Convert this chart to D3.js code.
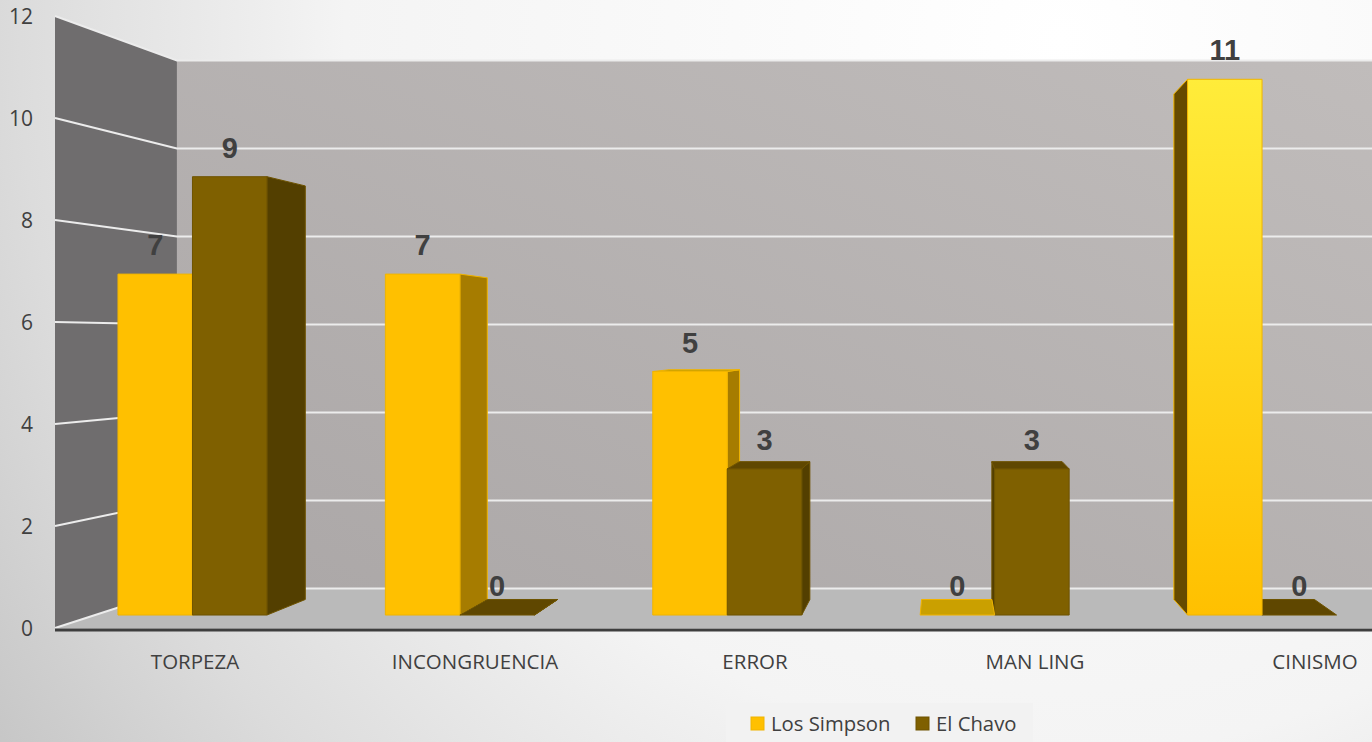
<!DOCTYPE html>
<html><head><meta charset="utf-8">
<script src="https://cdn.jsdelivr.net/npm/d3@7"></script>
<style>body{margin:0;overflow:hidden;background:#fff}svg{display:block}</style>
</head><body>
<svg id="c" width="1372" height="742"></svg>
<script>
const categories = ["TORPEZA","INCONGRUENCIA","ERROR","MAN LING","CINISMO"];
const seriesNames = ["Los Simpson","El Chavo"];
const losSimpson = [7,7,5,0,11];
const elChavo = [9,0,3,3,0];
const yTicks = [0,2,4,6,8,10,12];

const W=1372,H=742;
const VP=[945,340];
const S_FRONT_BAR=0.955, S_BACK_BAR=0.901, S_WALL=0.863;
const x = d3.scaleBand().domain(categories).range([55,1455]);
const y = d3.scaleLinear().domain([0,12]).range([628,16]);
const groupShift=-38, barW=78;
const sub = d3.scaleBand().domain(seriesNames).range([0,2*barW]);
const P=(x0,y0,s)=>[VP[0]+(x0-VP[0])*s, VP[1]+(y0-VP[1])*s];

const svg=d3.select("#c");
const defs=svg.append("defs");
const bg=defs.append("radialGradient").attr("id","bg").attr("gradientUnits","userSpaceOnUse")
  .attr("cx",1060).attr("cy",40).attr("r",1300);
[["0%","#ffffff"],["55%","#f4f4f4"],["80%","#dcdcdc"],["100%","#c4c4c4"]].forEach(([o,c])=>
  bg.append("stop").attr("offset",o).attr("stop-color",c));
const bw=defs.append("linearGradient").attr("id","bw").attr("x1","0").attr("y1","1").attr("x2","1").attr("y2","0");
bw.append("stop").attr("offset","0%").attr("stop-color","#aba7a7");
bw.append("stop").attr("offset","100%").attr("stop-color","#c0bcbb");
const hg=defs.append("linearGradient").attr("id","hg").attr("x1","0").attr("y1","0").attr("x2","0").attr("y2","1");
hg.append("stop").attr("offset","0%").attr("stop-color","#ffec3a");
hg.append("stop").attr("offset","100%").attr("stop-color","#ffc000");

svg.append("rect").attr("width",W).attr("height",H).attr("fill","url(#bg)");

const line=d3.line();
const x0L=x.range()[0];
const bwTop=P(x0L,y(12),S_WALL), bwBot=P(x0L,y(0),S_WALL);
svg.append("rect").attr("x",bwTop[0]).attr("y",bwTop[1]).attr("width",W-bwTop[0]).attr("height",bwBot[1]-bwTop[1]).attr("fill","url(#bw)");
svg.append("path").attr("d",line([P(x0L,y(0),1),P(x0L,y(12),1),bwTop,bwBot])+"Z").attr("fill","#6f6d6e");
svg.append("path").attr("d",line([P(x0L,y(0),1),[W,y(0)],[W,bwBot[1]],bwBot])+"Z").attr("fill","#bababa");
yTicks.forEach(t=>{
  const a=P(x0L,y(t),1), b=P(x0L,y(t),S_WALL);
  svg.append("path").attr("d",line([a,b,[W,b[1]]])).attr("fill","none").attr("stroke","#ececec").attr("stroke-width",2);
});
svg.append("line").attr("x1",x0L).attr("x2",W).attr("y1",y(0)+2).attr("y2",y(0)+2).attr("stroke","#3e3e3e").attr("stroke-width",3);

const maxV=d3.max(losSimpson);
const bars=[];
categories.forEach((c,i)=>{
  const gx=x(c)+x.bandwidth()/2+groupShift-barW;
  [[losSimpson,0],[elChavo,1]].forEach(([arr,k])=>{
    const a=gx+sub(seriesNames[k]), b=a+sub.bandwidth();
    bars.push({c,k,v:arr[i],a,b});
  });
});
const colors=[
  {front:"#ffc000",side:"#a67c00",top:"#caa000",stroke:"#f0b400"},
  {front:"#7f6000",side:"#533f00",top:"#5f4700",stroke:"#6e5300"}
];
bars.sort((p,q)=>{
  const dp=Math.max(Math.abs(p.a-VP[0]),Math.abs(p.b-VP[0]));
  const dq=Math.max(Math.abs(q.a-VP[0]),Math.abs(q.b-VP[0]));
  return dq-dp;
});
const g=svg.append("g");
bars.forEach(d=>{
  const col=colors[d.k];
  const hi = d.k===0 && d.v===maxV;
  const yt=y(d.v), yb=y(0);
  const F=s=>[P(d.a,yt,s),P(d.b,yt,s),P(d.b,yb,s),P(d.a,yb,s)];
  const f=F(S_FRONT_BAR), bk=F(S_BACK_BAR);
  const side=hi?"#654a00":col.side;
  if(d.b<VP[0]) g.append("path").attr("d",line([f[1],bk[1],bk[2],f[2]])+"Z").attr("fill",side).attr("stroke",col.stroke).attr("stroke-width",1);
  if(d.a>VP[0]) g.append("path").attr("d",line([f[0],bk[0],bk[3],f[3]])+"Z").attr("fill",side).attr("stroke",col.stroke).attr("stroke-width",1);
  if(yt>VP[1]) g.append("path").attr("d",line([f[0],f[1],bk[1],bk[0]])+"Z").attr("fill",col.top).attr("stroke",col.stroke).attr("stroke-width",1);
  if(d.v>0) g.append("path").attr("d",line(f)+"Z").attr("fill",hi?"url(#hg)":col.front).attr("stroke",col.stroke).attr("stroke-width",1);
});
bars.forEach(d=>{
  const p=P((d.a+d.b)/2,y(d.v),S_FRONT_BAR);
  svg.append("text").attr("x",p[0]).attr("y",p[1]-19).attr("text-anchor","middle")
    .attr("font-family","Liberation Sans, Arial").attr("font-weight","bold").attr("font-size",29).attr("fill","#404040").text(d.v);
});
yTicks.forEach(t=>{
  svg.append("text").attr("x",33).attr("y",y(t)).attr("dy","0.36em").attr("text-anchor","end")
    .attr("font-family","Open Sans").attr("font-size",21).attr("fill","#404040").text(t);
});
categories.forEach(c=>{
  svg.append("text").attr("x",x(c)+x.bandwidth()/2).attr("y",662).attr("dy","0.36em").attr("text-anchor","middle")
    .attr("font-family","Open Sans").attr("font-size",20.5).attr("fill","#404040").text(c);
});
svg.append("rect").attr("x",726).attr("y",703).attr("width",307).attr("height",39).attr("fill","#f2f2f2");
const lx=[751,916];
seriesNames.forEach((n,k)=>{
  svg.append("rect").attr("x",lx[k]).attr("y",717).attr("width",13).attr("height",13).attr("fill",colors[k].front).attr("stroke",colors[k].stroke);
  svg.append("text").attr("x",lx[k]+20).attr("y",724).attr("dy","0.36em").attr("font-family","Open Sans").attr("font-size",20.3).attr("fill","#404040").text(n);
});
</script>
</body></html>
